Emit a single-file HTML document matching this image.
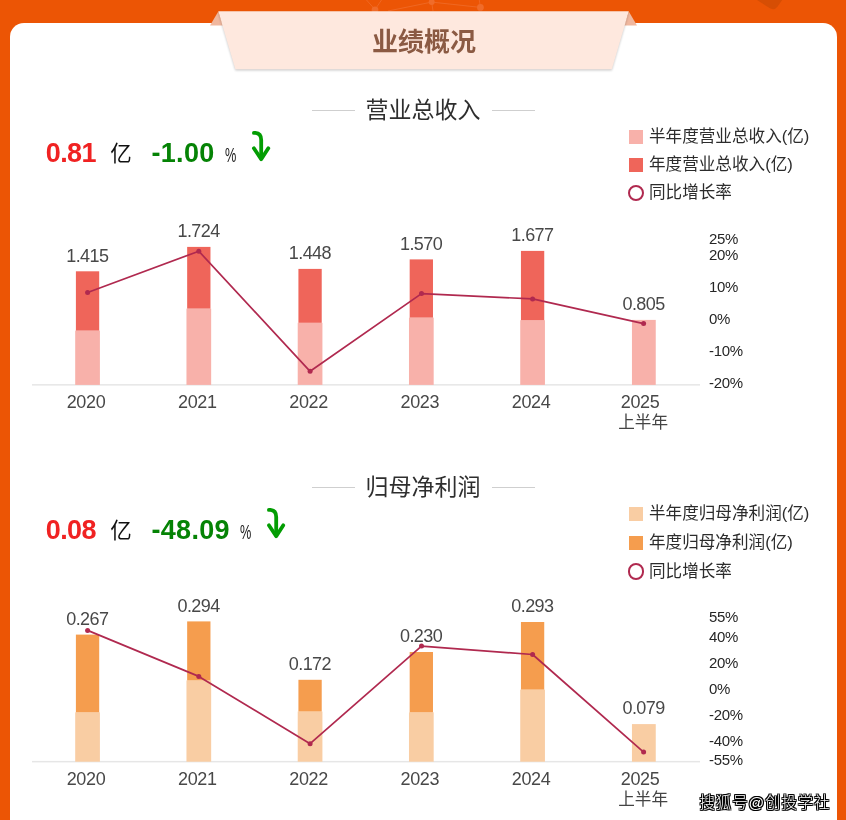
<!DOCTYPE html>
<html lang="zh-CN">
<head>
<meta charset="utf-8">
<title>业绩概况</title>
<style>
html,body{margin:0;padding:0}
body{width:846px;height:820px;overflow:hidden;background:#ec5505;font-family:"Liberation Sans","Noto Sans CJK SC",sans-serif;position:relative}
.page{position:absolute;left:0;top:0;width:846px;height:820px;overflow:hidden;background:#ec5505}
.card{position:absolute;left:10px;top:23px;width:827px;height:820px;background:#fff;border-radius:14px}
.deco,.chart,.ban{position:absolute;left:0;top:0}
.bt{position:absolute;left:324px;width:200px;top:23.4px;text-align:center;font-size:26px;font-weight:700;color:#8b5a43;line-height:38px;letter-spacing:0px}
.tt{position:absolute;left:273px;width:300px;text-align:center;font-size:23px;line-height:34px;color:#2e2e2e;white-space:nowrap}
.tl{position:absolute;width:43px;height:1px;background:#cfcfcf}
.sv{position:absolute;left:45.8px;font-size:27px;font-weight:700;color:#f02222;line-height:34px;letter-spacing:-0.6px;white-space:nowrap}
.su{position:absolute;left:110.3px;font-size:21.5px;color:#111;line-height:30px}
.sp{position:absolute;left:151.5px;font-size:27px;font-weight:700;color:#058305;line-height:34px;letter-spacing:0.3px;white-space:nowrap}
.spc{position:absolute;font-size:20.5px;color:#222;line-height:20px;transform:scaleX(0.62);transform-origin:0 0}
.arw{position:absolute}
.sq{position:absolute;left:629px;width:14px;height:14px}
.ring{position:absolute;left:627.7px;width:12.4px;height:12.4px;border:2.2px solid #b0294f;border-radius:50%}
.lg{position:absolute;left:649px;font-size:16.6px;line-height:24px;color:#2c2c2c;white-space:nowrap}
.bl,.xl{position:absolute;width:80px;text-align:center;font-size:18px;line-height:22px;color:#484848;letter-spacing:-0.6px;white-space:nowrap}
.xl{width:82px;letter-spacing:-0.35px}
.xs{position:absolute;width:82px;text-align:center;font-size:16.6px;line-height:22px;color:#444;white-space:nowrap}
.al{position:absolute;left:709px;font-size:15px;line-height:18px;color:#262626;letter-spacing:-0.3px;white-space:nowrap}
.wm{position:absolute;left:699.5px;top:791px;font-size:15.4px;letter-spacing:0.95px;font-weight:300;line-height:24px;color:#fff;white-space:nowrap;text-shadow:1px 0 0 #000,-1px 0 0 #000,0 1px 0 #000,0 -1px 0 #000,1px 1px 0 #000,-1px -1px 0 #000,1px -1px 0 #000,-1px 1px 0 #000}
</style>
</head>
<body>
<div class="page">
<svg class="deco" width="846" height="30" viewBox="0 0 846 30">
<g stroke="#f06c2a" stroke-width="0.8" fill="none">
<path d="M388,11 L431.7,2.1 L480.4,7.4 L479.3,0 M431.7,2.1 L433,11 M366.5,0 L375,9.6 L381.5,0"/>
</g>
<circle cx="431.7" cy="2.1" r="3" fill="#f06c2a"/>
<circle cx="375" cy="9.8" r="3.4" fill="#f06c2a"/>
<circle cx="480.4" cy="7.4" r="3.4" fill="#f06c2a"/>
<path d="M757,0 L769.5,8 Q774.2,10.9 777.6,6.4 L782.2,0 Z" fill="#d64e04"/>
</svg>
<div class="card"></div>
<svg class="ban" width="846" height="90" viewBox="0 0 846 90">
<defs><filter id="sh" x="-5%" y="-20%" width="110%" height="150%"><feGaussianBlur stdDeviation="1.2"/></filter></defs>
<polygon points="210,25.6 218.3,11.4 223,25.6" fill="#f0b79e"/>
<polygon points="637,25.6 628.8,11.4 624,25.6" fill="#f0b79e"/>
<polygon points="218.3,12.6 628.8,12.6 611.8,70.6 235.4,70.6" fill="#000" opacity="0.2" filter="url(#sh)"/>
<polygon points="218.3,11.2 628.8,11.2 611.8,69.2 235.4,69.2" fill="#fee8de"/>
</svg>
<div class="bt">业绩概况</div>

<div class="tl" style="left:312px;top:109.5px"></div>
<div class="tl" style="left:492px;top:109.5px"></div>
<div class="tt" style="top:92.5px">营业总收入</div>
<div class="sv" style="top:136.2px">0.81</div>
<div class="su" style="top:139.4px">亿</div>
<div class="sp" style="top:136.2px">-1.00</div>
<div class="spc" style="left:225px;top:144.8px">%</div>
<svg class="arw" style="left:248.9px;top:128.4px" width="26" height="36" viewBox="-3 -3 26 36"><path d="M1.9,1.9 H3.4 Q9.2,2.4 9.2,9 V27" fill="none" stroke="#039d03" stroke-width="3.8" stroke-linecap="round"/><path d="M1.9,17.3 L9.2,28.2 L16.3,17.3" fill="none" stroke="#039d03" stroke-width="3.8" stroke-linecap="round" stroke-linejoin="round"/></svg>
<div class="sq" style="top:129.5px;background:#f8b1aa"></div>
<div class="lg" style="top:124.5px">半年度营业总收入(亿)</div>
<div class="sq" style="top:157.7px;background:#ef655a"></div>
<div class="lg" style="top:152.7px">年度营业总收入(亿)</div>
<div class="ring" style="top:184.9px"></div>
<div class="lg" style="top:181.2px">同比增长率</div>

<div class="tl" style="left:312px;top:486.5px"></div>
<div class="tl" style="left:492px;top:486.5px"></div>
<div class="tt" style="top:469.5px">归母净利润</div>
<div class="sv" style="top:513.2px">0.08</div>
<div class="su" style="top:516.4px">亿</div>
<div class="sp" style="top:513.2px">-48.09</div>
<div class="spc" style="left:240.3px;top:521.8px">%</div>
<svg class="arw" style="left:263.6px;top:505.4px" width="26" height="36" viewBox="-3 -3 26 36"><path d="M1.9,1.9 H3.4 Q9.2,2.4 9.2,9 V27" fill="none" stroke="#039d03" stroke-width="3.8" stroke-linecap="round"/><path d="M1.9,17.3 L9.2,28.2 L16.3,17.3" fill="none" stroke="#039d03" stroke-width="3.8" stroke-linecap="round" stroke-linejoin="round"/></svg>
<div class="sq" style="top:507.4px;background:#f9cda3"></div>
<div class="lg" style="top:502.4px">半年度归母净利润(亿)</div>
<div class="sq" style="top:535.6px;background:#f59d4e"></div>
<div class="lg" style="top:530.6px">年度归母净利润(亿)</div>
<div class="ring" style="top:563.4px"></div>
<div class="lg" style="top:559.7px">同比增长率</div>

<svg class="chart" width="846" height="820" viewBox="0 0 846 820">
<rect x="32" y="384.1" width="668" height="1.5" fill="#e6e6e6"/>
<rect x="75.20" y="330.6" width="24.7" height="54.3" fill="#f8b1aa"/>
<rect x="75.90" y="271.3" width="23.3" height="59.3" fill="#ef655a"/>
<rect x="186.46" y="308.6" width="24.7" height="76.3" fill="#f8b1aa"/>
<rect x="187.16" y="246.9" width="23.3" height="61.7" fill="#ef655a"/>
<rect x="297.72" y="322.8" width="24.7" height="62.1" fill="#f8b1aa"/>
<rect x="298.42" y="268.9" width="23.3" height="53.9" fill="#ef655a"/>
<rect x="408.98" y="317.6" width="24.7" height="67.3" fill="#f8b1aa"/>
<rect x="409.68" y="259.4" width="23.3" height="58.2" fill="#ef655a"/>
<rect x="520.24" y="320.2" width="24.7" height="64.7" fill="#f8b1aa"/>
<rect x="520.94" y="250.9" width="23.3" height="69.3" fill="#ef655a"/>
<rect x="631.95" y="319.9" width="23.8" height="65.0" fill="#f8b1aa"/>
<polyline points="87.6,292.5 198.8,251.2 310.1,371.3 421.5,293.6 532.6,298.9 643.6,323.6" fill="none" stroke="#b0294f" stroke-width="1.7" stroke-linejoin="round"/>
<circle cx="87.6" cy="292.5" r="2.5" fill="#b0294f"/>
<circle cx="198.8" cy="251.2" r="2.5" fill="#b0294f"/>
<circle cx="310.1" cy="371.3" r="2.5" fill="#b0294f"/>
<circle cx="421.5" cy="293.6" r="2.5" fill="#b0294f"/>
<circle cx="532.6" cy="298.9" r="2.5" fill="#b0294f"/>
<circle cx="643.6" cy="323.6" r="2.5" fill="#b0294f"/>
<rect x="32" y="760.9" width="668" height="1.5" fill="#e6e6e6"/>
<rect x="75.20" y="712.3" width="24.7" height="49.4" fill="#f9cda3"/>
<rect x="75.90" y="634.6" width="23.3" height="77.7" fill="#f59d4e"/>
<rect x="186.46" y="680.4" width="24.7" height="81.3" fill="#f9cda3"/>
<rect x="187.16" y="621.4" width="23.3" height="59.0" fill="#f59d4e"/>
<rect x="297.72" y="711.5" width="24.7" height="50.2" fill="#f9cda3"/>
<rect x="298.42" y="679.8" width="23.3" height="31.7" fill="#f59d4e"/>
<rect x="408.98" y="712.3" width="24.7" height="49.4" fill="#f9cda3"/>
<rect x="409.68" y="652.0" width="23.3" height="60.3" fill="#f59d4e"/>
<rect x="520.24" y="689.6" width="24.7" height="72.1" fill="#f9cda3"/>
<rect x="520.94" y="622.0" width="23.3" height="67.6" fill="#f59d4e"/>
<rect x="631.95" y="724.1" width="23.8" height="37.6" fill="#f9cda3"/>
<polyline points="87.6,630.4 198.8,676.4 310.1,743.7 421.5,646.1 532.6,654.5 643.6,752.1" fill="none" stroke="#b0294f" stroke-width="1.7" stroke-linejoin="round"/>
<circle cx="87.6" cy="630.4" r="2.5" fill="#b0294f"/>
<circle cx="198.8" cy="676.4" r="2.5" fill="#b0294f"/>
<circle cx="310.1" cy="743.7" r="2.5" fill="#b0294f"/>
<circle cx="421.5" cy="646.1" r="2.5" fill="#b0294f"/>
<circle cx="532.6" cy="654.5" r="2.5" fill="#b0294f"/>
<circle cx="643.6" cy="752.1" r="2.5" fill="#b0294f"/>
</svg>
<div class="bl" style="left:47.3px;top:244.7px">1.415</div>
<div class="bl" style="left:158.6px;top:220.3px">1.724</div>
<div class="bl" style="left:269.9px;top:242.3px">1.448</div>
<div class="bl" style="left:381.1px;top:232.8px">1.570</div>
<div class="bl" style="left:492.4px;top:224.3px">1.677</div>
<div class="bl" style="left:603.6px;top:293.3px">0.805</div>
<div class="xl" style="left:45.0px;top:390.5px">2020</div>
<div class="xl" style="left:156.3px;top:390.5px">2021</div>
<div class="xl" style="left:267.6px;top:390.5px">2022</div>
<div class="xl" style="left:378.8px;top:390.5px">2023</div>
<div class="xl" style="left:490.1px;top:390.5px">2024</div>
<div class="xl" style="left:599.1px;top:390.5px">2025</div>
<div class="xs" style="left:602.1px;top:411.7px">上半年</div>
<div class="al" style="top:229.9px">25%</div>
<div class="al" style="top:246.1px">20%</div>
<div class="al" style="top:278.2px">10%</div>
<div class="al" style="top:310.3px">0%</div>
<div class="al" style="top:342.0px">-10%</div>
<div class="al" style="top:373.9px">-20%</div>
<div class="bl" style="left:47.3px;top:608.0px">0.267</div>
<div class="bl" style="left:158.6px;top:594.8px">0.294</div>
<div class="bl" style="left:269.9px;top:653.2px">0.172</div>
<div class="bl" style="left:381.1px;top:625.4px">0.230</div>
<div class="bl" style="left:492.4px;top:595.4px">0.293</div>
<div class="bl" style="left:603.6px;top:696.5px">0.079</div>
<div class="xl" style="left:45.0px;top:768.0px">2020</div>
<div class="xl" style="left:156.3px;top:768.0px">2021</div>
<div class="xl" style="left:267.6px;top:768.0px">2022</div>
<div class="xl" style="left:378.8px;top:768.0px">2023</div>
<div class="xl" style="left:490.1px;top:768.0px">2024</div>
<div class="xl" style="left:599.1px;top:768.0px">2025</div>
<div class="xs" style="left:602.1px;top:789.2px">上半年</div>
<div class="al" style="top:607.7px">55%</div>
<div class="al" style="top:627.5px">40%</div>
<div class="al" style="top:653.6px">20%</div>
<div class="al" style="top:679.7px">0%</div>
<div class="al" style="top:705.6px">-20%</div>
<div class="al" style="top:731.5px">-40%</div>
<div class="al" style="top:750.5px">-55%</div>
<div class="wm">搜狐号@创投学社</div>
</div>
</body>
</html>
